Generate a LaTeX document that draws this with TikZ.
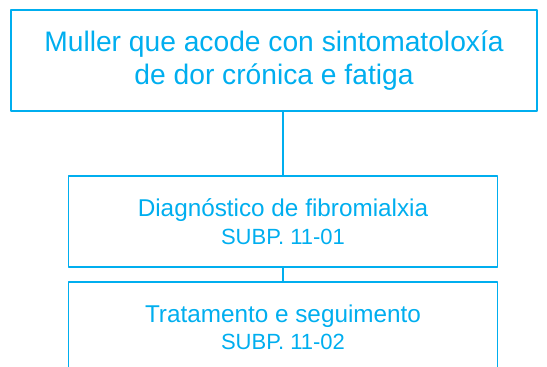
\documentclass[tikz,border=0pt]{standalone}
\usepackage{fontspec}
\setmainfont{Liberation Sans}
\definecolor{fluxcyan}{RGB}{0,174,239}

\begin{document}
\begin{tikzpicture}[
        x = 1pt, y = -1pt,
        line join=round,
        boxstyle/.style = {draw=fluxcyan, line width=1.3pt, text=fluxcyan, align=center, inner sep=0pt},
        linkstyle/.style = {color=fluxcyan, line width=1.6pt}
    ]

    \clip (0,0) rectangle (547,367);

    % caixas do fluxograma
    \node[boxstyle, minimum width=526pt, minimum height=101pt,
          font=\fontsize{28.2}{33}\selectfont] (start) at (274,60.5)
          {Muller que acode con sintomatoloxía\\de dor crónica e fatiga};

    \node[boxstyle, minimum width=429pt, minimum height=91pt,
          font=\fontsize{24.3}{28}\selectfont] (diag) at (283,221.5)
          {Diagnóstico de fibromialxia\\{\fontsize{22}{24}\selectfont SUBP. 11-01}};

    \node[boxstyle, minimum width=429pt, minimum height=91pt,
          font=\fontsize{24.3}{27}\selectfont] (trat) at (283,327.5)
          {Tratamento e seguimento\\{\fontsize{22}{24}\selectfont SUBP. 11-02}};

    % ligazons
    \draw[linkstyle] (diag.north) -- (diag.north |- start.south);
    \draw[linkstyle] (diag.south) -- (trat.north);

\end{tikzpicture}
\end{document}
